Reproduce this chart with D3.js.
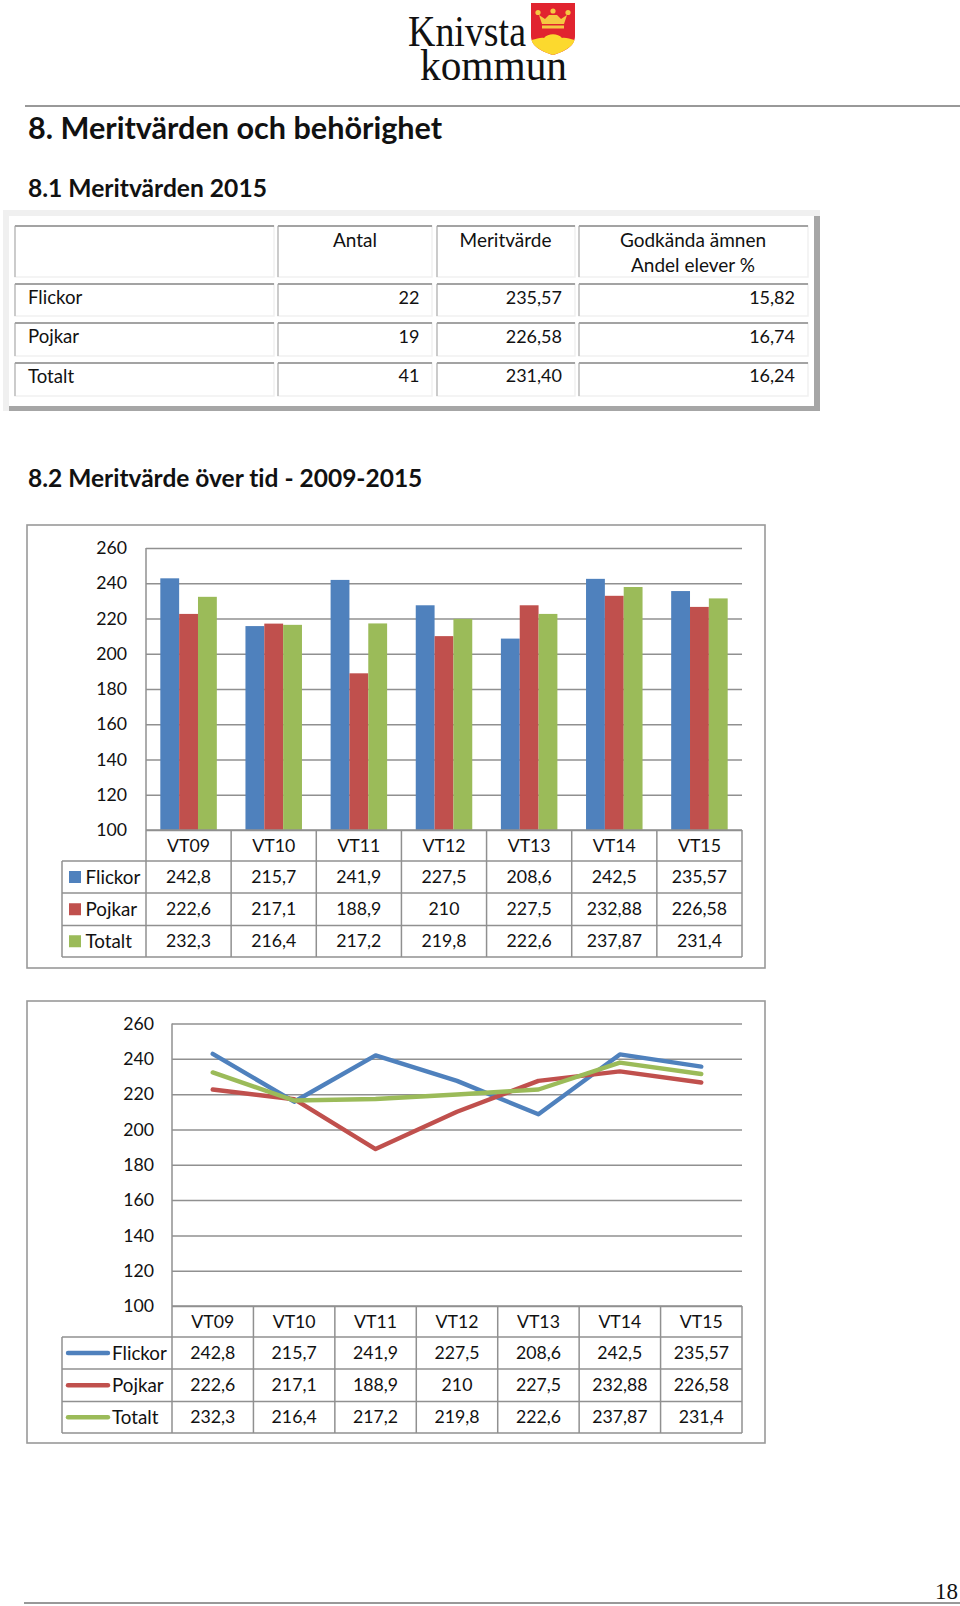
<!DOCTYPE html>
<html><head><meta charset="utf-8">
<script src="https://cdn.jsdelivr.net/npm/d3@7/dist/d3.min.js"></script>
<style>html,body{margin:0;padding:0;background:#fff}svg{display:block}text{font-family:Lato,"Open Sans",sans-serif;fill:#111;font-variant-ligatures:none}</style>
</head><body><div id="c"></div>
<script>
const categories = ["VT09","VT10","VT11","VT12","VT13","VT14","VT15"];
const seriesNames = ["Flickor","Pojkar","Totalt"];
const flickor = [242.8,215.7,241.9,227.5,208.6,242.5,235.57];
const pojkar = [222.6,217.1,188.9,210,227.5,232.88,226.58];
const totalt = [232.3,216.4,217.2,219.8,222.6,237.87,231.4];
const seriesValues = [flickor,pojkar,totalt];
const seriesColors = ["#4F81BD","#C0504D","#9BBB59"];
const yTicks = [100,120,140,160,180,200,220,240,260];
const summaryHeaders = [["Antal"],["Meritvärde"],["Godkända ämnen","Andel elever %"]];
const summaryRows = ["Flickor","Pojkar","Totalt"];
const summaryAntal = ["22","19","41"];
const summaryMerit = ["235,57","226,58","231,40"];
const summaryGodkanda = ["15,82","16,74","16,24"];

const W=960,H=1606,FS=17.7,LS=18.8,GRID="#909090";
const svg=d3.select("#c").append("svg").attr("width",W).attr("height",H);
const comma=v=>String(v).replace(".",",");
function txt(g,s,x,y,o={}){
  return g.append("text").attr("x",x).attr("y",y).attr("dy",".35em")
    .attr("text-anchor",o.a||"start").attr("font-size",o.fs||FS)
    .attr("font-weight",o.w||400).text(s);
}
function ln(g,x1,y1,x2,y2,c=GRID,w=1.5){
  g.append("line").attr("x1",x1).attr("y1",y1).attr("x2",x2).attr("y2",y2).attr("stroke",c).attr("stroke-width",w);
}

// ---- Page header
const logo=svg.append("g");
logo.append("text").attr("x",408).attr("y",46).attr("font-size",44).attr("textLength",118).attr("lengthAdjust","spacingAndGlyphs")
  .style("font-family","'Liberation Serif'").text("Knivsta");
logo.append("text").attr("x",420).attr("y",80).attr("font-size",44).attr("textLength",147).attr("lengthAdjust","spacingAndGlyphs")
  .style("font-family","'Liberation Serif'").text("kommun");
logo.append("path").attr("d","M531 3H575V36C575 47 563 52 553 55C543 52 531 47 531 36Z").attr("fill","#E1242F");
logo.append("path").attr("d","M531.500 40C537 39 541 37 544 38C548 33 558 33 562 38C565 37 570 39 574.500 40C573 47 563 52 553 55C543 52 533 47 531.500 40Z").attr("fill","#FCD92E");
logo.append("path").attr("d","M539 15L545 19L549 15L553 15L557 15L561 19L567 15L564 24H542Z").attr("fill","#F5C842");
[[538,12.500],[553,11],[568,12.500]].forEach(p=>logo.append("circle").attr("cx",p[0]).attr("cy",p[1]).attr("r",2.6).attr("fill","#F5C842"));
logo.append("rect").attr("x",542).attr("y",25.500).attr("width",22).attr("height",3).attr("fill","#F5C842");

ln(svg,25,106,960,106,"#333",1);
txt(svg,"8. Meritvärden och behörighet",28,128.500,{fs:30.600,w:700});
txt(svg,"8.1 Meritvärden 2015",28,188.500,{fs:24.600,w:700});
txt(svg,"8.2 Meritvärde över tid - 2009-2015",28,478.500,{fs:24.500,w:700});

// ---- Summary table
const t1=svg.append("g");
t1.append("rect").attr("x",3).attr("y",210).attr("width",817).attr("height",201).attr("fill","#f0f0f0");
t1.append("rect").attr("x",9).attr("y",216).attr("width",811).attr("height",195).attr("fill","#a6a6a6");
t1.append("rect").attr("x",9).attr("y",216).attr("width",805).attr("height",190).attr("fill","#fff");
const colEdges=[[15,274],[278,432],[437,575],[579,808]];
const rowEdges=[[226,277],[284,316],[323,356],[363,396]];
rowEdges.forEach(r=>colEdges.forEach(c=>{
  t1.append("rect").attr("x",c[0]).attr("y",r[0]).attr("width",c[1]-c[0]).attr("height",r[1]-r[0])
    .attr("fill","#fff").attr("stroke","#f1f1f1").attr("stroke-width",1.5);
  ln(t1,c[0],r[0],c[1],r[0],"#a3a3a3",2);
  ln(t1,c[0],r[0],c[0],r[1],"#a3a3a3",1);
}));
const headCx=[355,505.500,693];
summaryHeaders.forEach((h,i)=>h.forEach((s,j)=>txt(t1,s,headCx[i],240+j*25,{a:"middle",fs:LS+.2})));
const rowY=[297.500,336.500,376];
summaryRows.forEach((r,i)=>{
  txt(t1,r,28,rowY[i],{fs:18.600});
  txt(t1,summaryAntal[i],419.500,rowY[i],{a:"end",fs:18});
  txt(t1,summaryMerit[i],562,rowY[i],{a:"end",fs:18});
  txt(t1,summaryGodkanda[i],795,rowY[i],{a:"end",fs:18});
});

// ---- Shared frame: plot with axis + data table
function chartFrame(cfg){
  const g=svg.append("g");
  g.append("rect").attr("x",27).attr("y",cfg.top).attr("width",738).attr("height",cfg.bottom-cfg.top)
    .attr("fill","#fff").attr("stroke","#999").attr("stroke-width",1.6);
  const x=d3.scaleBand().domain(categories).range([cfg.left,742]);
  const y=d3.scaleLinear().domain([100,260]).range([cfg.base,cfg.y260]);
  const ax=g.append("g").attr("transform",`translate(${cfg.left},0)`)
    .call(d3.axisLeft(y).tickValues(yTicks).tickSize(-(742-cfg.left)).tickPadding(cfg.pad));
  ax.selectAll("line").attr("stroke",GRID).attr("stroke-width",1.5);
  ax.select(".domain").attr("stroke",GRID).attr("stroke-width",1.5).attr("d",`M0,${cfg.y260}V${cfg.base}`);
  ax.selectAll("text").attr("font-size",FS).style("font-family","Lato").attr("fill","#111");
  return {g,x,y};
}
function dataTable(f,cfg){
  const {g,x}=f, R=cfg.rows;
  ln(g,cfg.left,R[0],742,R[0]);
  ln(g,62,R[1],742,R[1]); ln(g,62,R[2],742,R[2]); ln(g,62,R[3],742,R[3]); ln(g,62,R[4],742,R[4]);
  ln(g,62,R[1],62,R[4]); ln(g,cfg.left,R[0],cfg.left,R[4]);
  categories.forEach(c=>{ln(g,x(c)+x.bandwidth(),R[0],x(c)+x.bandwidth(),R[4]);
    txt(g,c,x(c)+x.bandwidth()/2,(R[0]+R[1])/2,{a:"middle"});});
  seriesNames.forEach((s,i)=>{
    const cy=(R[i+1]+R[i+2])/2;
    txt(g,s,cfg.labelX,cy,{fs:LS});
    seriesValues[i].forEach((v,k)=>txt(g,comma(v),x(categories[k])+x.bandwidth()/2,cy,{a:"middle"}));
  });
}

// ---- Bar chart
const barCfg={top:525,bottom:968,left:146,base:830,y260:548,labelX:85.500,pad:19,rows:[830,861,893,925.500,957]};
const bc=chartFrame(barCfg);
const inner=d3.scaleBand().domain(seriesNames).range([0,bc.x.bandwidth()]).paddingOuter(0.76).paddingInner(0);
bc.g.selectAll("g.s").data(seriesNames).join("g").attr("class","s").attr("fill",(d,i)=>seriesColors[i])
  .each(function(s,i){
    d3.select(this).selectAll("rect").data(seriesValues[i]).join("rect")
      .attr("x",(v,k)=>bc.x(categories[k])+inner(s)).attr("width",inner.bandwidth())
      .attr("y",v=>bc.y(v)).attr("height",v=>bc.y(100)-bc.y(v));
  });
dataTable(bc,barCfg);
seriesNames.forEach((s,i)=>{
  const cy=(barCfg.rows[i+1]+barCfg.rows[i+2])/2;
  bc.g.append("rect").attr("x",69).attr("y",cy-6).attr("width",12).attr("height",12).attr("fill",seriesColors[i]);
});

// ---- Line chart
const lineCfg={top:1001,bottom:1443,left:172,base:1306,y260:1023.500,labelX:112,pad:18,rows:[1306,1337,1369,1401.500,1433]};
const lc=chartFrame(lineCfg);
const line=d3.line().x((v,k)=>lc.x(categories[k])+lc.x.bandwidth()/2).y(v=>lc.y(v));
seriesNames.forEach((s,i)=>{
  lc.g.append("path").datum(seriesValues[i]).attr("d",line).attr("fill","none")
    .attr("stroke",seriesColors[i]).attr("stroke-width",4.4).attr("stroke-linejoin","round").attr("stroke-linecap","round");
});
dataTable(lc,lineCfg);
seriesNames.forEach((s,i)=>{
  const cy=(lineCfg.rows[i+1]+lineCfg.rows[i+2])/2;
  lc.g.append("line").attr("x1",68).attr("x2",108).attr("y1",cy).attr("y2",cy)
    .attr("stroke",seriesColors[i]).attr("stroke-width",4.4).attr("stroke-linecap","round");
});

// ---- Footer
ln(svg,24,1603,960,1603,"#333",1);
svg.append("text").attr("x",946.500).attr("y",1599).attr("text-anchor","middle").attr("font-size",23)
  .style("font-family","'Liberation Serif'").text("18");
</script></body></html>
